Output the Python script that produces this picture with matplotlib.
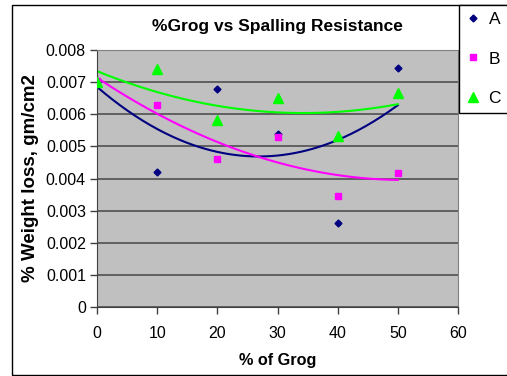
import matplotlib
matplotlib.use('Agg')

import numpy as np
import matplotlib.pyplot as plt
from matplotlib.patches import Rectangle

plt.rc('font', family=['Liberation Sans', 'DejaVu Sans'])

# data
grog = [0, 10, 20, 30, 40, 50]
loss_a = [0.0070, 0.0042, 0.0068, 0.00537, 0.0026, 0.00745]
loss_b = [0.00705, 0.0063, 0.0046, 0.00529, 0.00344, 0.00417]
loss_c = [0.0070, 0.0074, 0.00583, 0.00652, 0.00532, 0.00667]
series_names = ['A', 'B', 'C']

fig = plt.figure(figsize=(5.07, 3.76), dpi=100, facecolor='w')
ax = fig.add_axes([97/507, 1-307/376, 361/507, 257/376])
ax.set_facecolor('#c0c0c0')

colors = ['#000080', '#ff00ff', '#00ff00']
markers = ['D', 's', '^']
sizes = [3.5, 4.5, 6.5]
xs = np.linspace(0, 50, 200)
for name, ys, c, m, s in zip(series_names, [loss_a, loss_b, loss_c], colors, markers, sizes):
    # polynomial (order 2) trendline like Excel
    p = np.polyfit(grog, ys, 2)
    ax.plot(xs, np.polyval(p, xs), color=c, lw=1.5, zorder=2)
    ax.plot(grog, ys, ls='none', marker=m, ms=s, color=c, mec=c, label=name, zorder=3)

ax.set_xlim(0, 60)
ax.set_ylim(0, 0.008)
ax.set_xticks(np.arange(0, 61, 10))
ax.set_yticks(np.arange(0, 0.0081, 0.001))
ax.set_yticklabels(['0', '0.001', '0.002', '0.003', '0.004', '0.005', '0.006', '0.007', '0.008'])
ax.yaxis.grid(True, color='#505050', lw=1.2)
ax.set_axisbelow(True)
ax.tick_params(direction='out', length=5, width=1, color='#404040', labelsize=11.5, pad=3)
ax.tick_params(axis='x', pad=9)
for side in ['top', 'right']:
    ax.spines[side].set_color('#808080')
for side in ['left', 'bottom']:
    ax.spines[side].set_color('#404040')

ax.set_title('%Grog vs Spalling Resistance', fontsize=12.5, fontweight='bold', pad=14)
ax.set_xlabel('% of Grog', fontsize=11.7, fontweight='bold', labelpad=8)
ax.set_ylabel('% Weight loss, gm/cm2', fontsize=13.5, fontweight='bold', labelpad=5)

# outer chart border
fig.patches.append(Rectangle((12/507, 1/376), 1.0, 1-6/376, transform=fig.transFigure,
                             fill=False, edgecolor='black', lw=1))

fig.legend(loc='upper left', bbox_to_anchor=(459/507, 1-5/376), frameon=True, fancybox=False,
           edgecolor='black', framealpha=1, fontsize=12.5, labelspacing=1.4, handlelength=0.8,
           handletextpad=0.5, borderpad=0.4, borderaxespad=0)

plt.savefig('out.png', dpi=100)
